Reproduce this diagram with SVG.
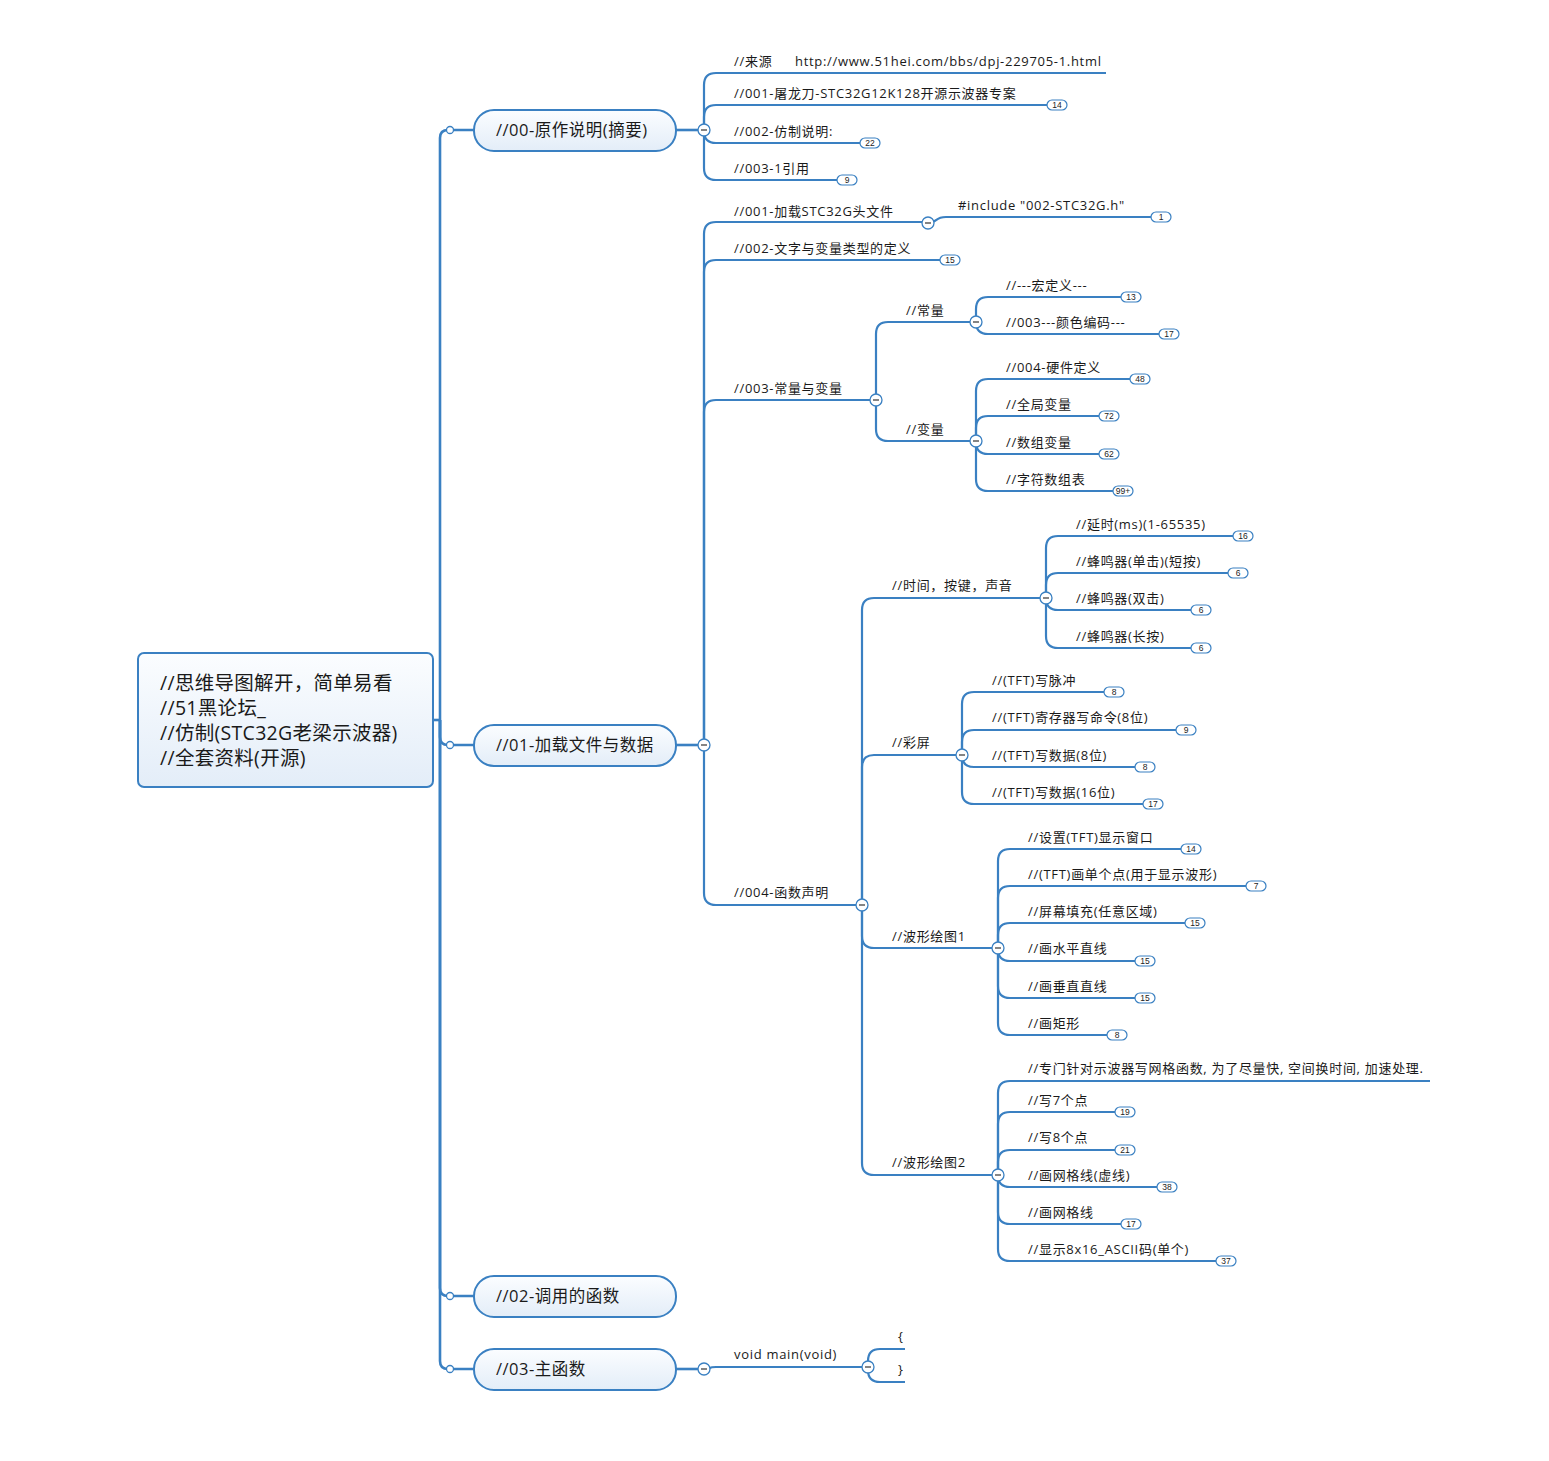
<svg xmlns="http://www.w3.org/2000/svg" width="1549" height="1461" viewBox="0 0 1549 1461">
<defs>
<linearGradient id="g" x1="0" y1="0" x2="0" y2="1">
<stop offset="0" stop-color="#fbfdff"/>
<stop offset="1" stop-color="#e3edf8"/>
</linearGradient>
<style>
.ln{fill:none;stroke:#3a80c2;stroke-width:2.2}
.sp{fill:none;stroke:#3a80c2;stroke-width:2.6}
.box{fill:url(#g);stroke:#3a80c2;stroke-width:2}
.t{font-family:"Open Sans","Noto Sans CJK SC",sans-serif;font-size:13px;letter-spacing:0.7px;fill:#1a1a1a}
.t1{font-family:"Open Sans","Noto Sans CJK SC",sans-serif;font-size:16.5px;letter-spacing:0.5px;fill:#1a1a1a}
.t0{font-family:"Open Sans","Noto Sans CJK SC",sans-serif;font-size:19.5px;letter-spacing:0.3px;fill:#1a1a1a}
.bd rect{fill:#fff;stroke:#3a80c2;stroke-width:1.2}
.bd text{font-family:"Liberation Sans",sans-serif;font-size:8.5px;fill:#222;text-anchor:middle}
.cc circle{fill:#fff;stroke:#3a80c2;stroke-width:1.3}
.cc path{stroke:#333;stroke-width:1.2}
.dot{fill:#fff;stroke:#3a80c2;stroke-width:1.3}
</style>
</defs>
<rect width="1549" height="1461" fill="#fff"/>

<g id="connectors">
<path class="sp" d="M433,720 H440"/>
<path class="sp" d="M440,720 V138 Q440,130 448,130 H474"/>
<path class="sp" d="M440,720 V737 Q440,745 448,745 H474"/>
<path class="sp" d="M440,720 V1288 Q440,1296 448,1296 H474"/>
<path class="sp" d="M440,720 V1361 Q440,1369 448,1369 H474"/>
<path class="sp" d="M676,130 H704"/>
<path class="sp" d="M676,745 H704"/>
<path class="sp" d="M676,1369 H704"/>
<path class="ln" d="M704,130 V85 Q704,73 716,73 H1106"/>
<path class="ln" d="M704,130 V117 Q704,105 716,105 H1048"/>
<path class="ln" d="M704,130 V131 Q704,143 716,143 H861"/>
<path class="ln" d="M704,130 V168 Q704,180 716,180 H837"/>
<path class="ln" d="M704,745 V234 Q704,222 716,222 H922"/>
<path class="ln" d="M928,223 C938,223 934,217 946,217 H1152"/>
<path class="ln" d="M704,745 V272 Q704,260 716,260 H940"/>
<path class="ln" d="M704,745 V412 Q704,400 716,400 H870"/>
<path class="ln" d="M704,745 V893 Q704,905 716,905 H856"/>
<path class="ln" d="M876,400 V334 Q876,322 888,322 H970"/>
<path class="ln" d="M876,400 V429 Q876,441 888,441 H970"/>
<path class="ln" d="M976,322 V309 Q976,297 988,297 H1121"/>
<path class="ln" d="M976,322 V322 Q976,334 988,334 H1159"/>
<path class="ln" d="M976,441 V391 Q976,379 988,379 H1130"/>
<path class="ln" d="M976,441 V428 Q976,416 988,416 H1099"/>
<path class="ln" d="M976,441 V442 Q976,454 988,454 H1099"/>
<path class="ln" d="M976,441 V479 Q976,491 988,491 H1113"/>
<path class="ln" d="M862,905 V610 Q862,598 874,598 H1040"/>
<path class="ln" d="M862,905 V767 Q862,755 874,755 H956"/>
<path class="ln" d="M862,905 V936 Q862,948 874,948 H992"/>
<path class="ln" d="M862,905 V1163 Q862,1175 874,1175 H992"/>
<path class="ln" d="M1046,598 V548 Q1046,536 1058,536 H1233"/>
<path class="ln" d="M1046,598 V585 Q1046,573 1058,573 H1228"/>
<path class="ln" d="M1046,598 V598 Q1046,610 1058,610 H1191"/>
<path class="ln" d="M1046,598 V636 Q1046,648 1058,648 H1191"/>
<path class="ln" d="M962,755 V704 Q962,692 974,692 H1104"/>
<path class="ln" d="M962,755 V742 Q962,730 974,730 H1176"/>
<path class="ln" d="M962,755 V755 Q962,767 974,767 H1135"/>
<path class="ln" d="M962,755 V792 Q962,804 974,804 H1143"/>
<path class="ln" d="M998,948 V861 Q998,849 1010,849 H1181"/>
<path class="ln" d="M998,948 V898 Q998,886 1010,886 H1246"/>
<path class="ln" d="M998,948 V935 Q998,923 1010,923 H1185"/>
<path class="ln" d="M998,948 V949 Q998,961 1010,961 H1135"/>
<path class="ln" d="M998,948 V986 Q998,998 1010,998 H1135"/>
<path class="ln" d="M998,948 V1023 Q998,1035 1010,1035 H1107"/>
<path class="ln" d="M998,1175 V1093 Q998,1081 1010,1081 H1430"/>
<path class="ln" d="M998,1175 V1124 Q998,1112 1010,1112 H1115"/>
<path class="ln" d="M998,1175 V1162 Q998,1150 1010,1150 H1115"/>
<path class="ln" d="M998,1175 V1175 Q998,1187 1010,1187 H1157"/>
<path class="ln" d="M998,1175 V1212 Q998,1224 1010,1224 H1121"/>
<path class="ln" d="M998,1175 V1249 Q998,1261 1010,1261 H1216"/>
<path class="ln" d="M704,1369 C710,1369 708,1367 716,1367 H862"/>
<path class="ln" d="M868,1367 V1361 Q868,1349 880,1349 H905"/>
<path class="ln" d="M868,1367 V1370 Q868,1382 880,1382 H905"/>
</g>

<g id="root">
<rect class="box" x="138" y="653" width="295" height="134" rx="6"/>
<text class="t0" x="160" y="690">//思维导图解开，简单易看</text>
<text class="t0" x="160" y="715">//51黑论坛_</text>
<text class="t0" x="160" y="740">//仿制(STC32G老梁示波器)</text>
<text class="t0" x="160" y="765">//全套资料(开源)</text>
</g>

<g id="n00">
<circle class="dot" cx="450" cy="130" r="3.5"/>
<rect class="box" x="474" y="110" width="202" height="41" rx="20"/>
<text class="t1" x="496" y="136">//00-原作说明(摘要)</text>
</g>
<g id="n01">
<circle class="dot" cx="450" cy="745" r="3.5"/>
<rect class="box" x="474" y="725" width="202" height="41" rx="20"/>
<text class="t1" x="496" y="751">//01-加载文件与数据</text>
</g>
<g id="n02">
<circle class="dot" cx="450" cy="1296" r="3.5"/>
<rect class="box" x="474" y="1276" width="202" height="41" rx="20"/>
<text class="t1" x="496" y="1302">//02-调用的函数</text>
</g>
<g id="n03">
<circle class="dot" cx="450" cy="1369" r="3.5"/>
<rect class="box" x="474" y="1349" width="202" height="41" rx="20"/>
<text class="t1" x="496" y="1375">//03-主函数</text>
</g>

<g id="leaves">
<text class="t" x="734" y="66">//来源<tspan x="795">http://www.51hei.com/bbs/dpj-229705-1.html</tspan></text>
<text class="t" x="734" y="98">//001-屠龙刀-STC32G12K128开源示波器专案</text>
<text class="t" x="734" y="136">//002-仿制说明:</text>
<text class="t" x="734" y="173">//003-1引用</text>
<text class="t" x="734" y="216">//001-加载STC32G头文件</text>
<text class="t" x="958" y="210">#include "002-STC32G.h"</text>
<text class="t" x="734" y="253">//002-文字与变量类型的定义</text>
<text class="t" x="734" y="393">//003-常量与变量</text>
<text class="t" x="906" y="315">//常量</text>
<text class="t" x="1006" y="290">//---宏定义---</text>
<text class="t" x="1006" y="327">//003---颜色编码---</text>
<text class="t" x="906" y="434">//变量</text>
<text class="t" x="1006" y="372">//004-硬件定义</text>
<text class="t" x="1006" y="409">//全局变量</text>
<text class="t" x="1006" y="447">//数组变量</text>
<text class="t" x="1006" y="484">//字符数组表</text>
<text class="t" x="734" y="897">//004-函数声明</text>
<text class="t" x="892" y="590">//时间，按键，声音</text>
<text class="t" x="1076" y="529">//延时(ms)(1-65535)</text>
<text class="t" x="1076" y="566">//蜂鸣器(单击)(短按)</text>
<text class="t" x="1076" y="603">//蜂鸣器(双击)</text>
<text class="t" x="1076" y="641">//蜂鸣器(长按)</text>
<text class="t" x="892" y="747">//彩屏</text>
<text class="t" x="992" y="685">//(TFT)写脉冲</text>
<text class="t" x="992" y="722">//(TFT)寄存器写命令(8位)</text>
<text class="t" x="992" y="760">//(TFT)写数据(8位)</text>
<text class="t" x="992" y="797">//(TFT)写数据(16位)</text>
<text class="t" x="892" y="941">//波形绘图1</text>
<text class="t" x="1028" y="842">//设置(TFT)显示窗口</text>
<text class="t" x="1028" y="879">//(TFT)画单个点(用于显示波形)</text>
<text class="t" x="1028" y="916">//屏幕填充(任意区域)</text>
<text class="t" x="1028" y="953">//画水平直线</text>
<text class="t" x="1028" y="991">//画垂直直线</text>
<text class="t" x="1028" y="1028">//画矩形</text>
<text class="t" x="892" y="1167">//波形绘图2</text>
<text class="t" x="1028" y="1073">//专门针对示波器写网格函数, 为了尽量快, 空间换时间, 加速处理.</text>
<text class="t" x="1028" y="1105">//写7个点</text>
<text class="t" x="1028" y="1142">//写8个点</text>
<text class="t" x="1028" y="1180">//画网格线(虚线)</text>
<text class="t" x="1028" y="1217">//画网格线</text>
<text class="t" x="1028" y="1254">//显示8x16_ASCII码(单个)</text>
<text class="t" x="734" y="1359">void main(void)</text>
<text class="t" x="898" y="1341">{</text>
<text class="t" x="898" y="1374">}</text>
</g>

<g id="badges" class="bd">
<rect x="1047" y="100" width="20" height="10" rx="5"/><text x="1057" y="108">14</text>
<rect x="860" y="138" width="20" height="10" rx="5"/><text x="870" y="146">22</text>
<rect x="837" y="175" width="20" height="10" rx="5"/><text x="847" y="183">9</text>
<rect x="1151" y="212" width="20" height="10" rx="5"/><text x="1161" y="220">1</text>
<rect x="940" y="255" width="20" height="10" rx="5"/><text x="950" y="263">15</text>
<rect x="1121" y="292" width="20" height="10" rx="5"/><text x="1131" y="300">13</text>
<rect x="1159" y="329" width="20" height="10" rx="5"/><text x="1169" y="337">17</text>
<rect x="1130" y="374" width="20" height="10" rx="5"/><text x="1140" y="382">48</text>
<rect x="1099" y="411" width="20" height="10" rx="5"/><text x="1109" y="419">72</text>
<rect x="1099" y="449" width="20" height="10" rx="5"/><text x="1109" y="457">62</text>
<rect x="1113" y="486" width="20" height="10" rx="5"/><text x="1123" y="494">99+</text>
<rect x="1233" y="531" width="20" height="10" rx="5"/><text x="1243" y="539">16</text>
<rect x="1228" y="568" width="20" height="10" rx="5"/><text x="1238" y="576">6</text>
<rect x="1191" y="605" width="20" height="10" rx="5"/><text x="1201" y="613">6</text>
<rect x="1191" y="643" width="20" height="10" rx="5"/><text x="1201" y="651">6</text>
<rect x="1104" y="687" width="20" height="10" rx="5"/><text x="1114" y="695">8</text>
<rect x="1176" y="725" width="20" height="10" rx="5"/><text x="1186" y="733">9</text>
<rect x="1135" y="762" width="20" height="10" rx="5"/><text x="1145" y="770">8</text>
<rect x="1143" y="799" width="20" height="10" rx="5"/><text x="1153" y="807">17</text>
<rect x="1181" y="844" width="20" height="10" rx="5"/><text x="1191" y="852">14</text>
<rect x="1246" y="881" width="20" height="10" rx="5"/><text x="1256" y="889">7</text>
<rect x="1185" y="918" width="20" height="10" rx="5"/><text x="1195" y="926">15</text>
<rect x="1135" y="956" width="20" height="10" rx="5"/><text x="1145" y="964">15</text>
<rect x="1135" y="993" width="20" height="10" rx="5"/><text x="1145" y="1001">15</text>
<rect x="1107" y="1030" width="20" height="10" rx="5"/><text x="1117" y="1038">8</text>
<rect x="1115" y="1107" width="20" height="10" rx="5"/><text x="1125" y="1115">19</text>
<rect x="1115" y="1145" width="20" height="10" rx="5"/><text x="1125" y="1153">21</text>
<rect x="1157" y="1182" width="20" height="10" rx="5"/><text x="1167" y="1190">38</text>
<rect x="1121" y="1219" width="20" height="10" rx="5"/><text x="1131" y="1227">17</text>
<rect x="1216" y="1256" width="20" height="10" rx="5"/><text x="1226" y="1264">37</text>
</g>

<g id="collapse" class="cc">
<circle cx="704" cy="130" r="6"/><path d="M701,130 H707"/>
<circle cx="704" cy="745" r="6"/><path d="M701,745 H707"/>
<circle cx="704" cy="1369" r="6"/><path d="M701,1369 H707"/>
<circle cx="928" cy="223" r="6"/><path d="M925,223 H931"/>
<circle cx="876" cy="400" r="6"/><path d="M873,400 H879"/>
<circle cx="976" cy="322" r="6"/><path d="M973,322 H979"/>
<circle cx="976" cy="441" r="6"/><path d="M973,441 H979"/>
<circle cx="862" cy="905" r="6"/><path d="M859,905 H865"/>
<circle cx="1046" cy="598" r="6"/><path d="M1043,598 H1049"/>
<circle cx="962" cy="755" r="6"/><path d="M959,755 H965"/>
<circle cx="998" cy="948" r="6"/><path d="M995,948 H1001"/>
<circle cx="998" cy="1175" r="6"/><path d="M995,1175 H1001"/>
<circle cx="868" cy="1367" r="6"/><path d="M865,1367 H871"/>
</g>
</svg>
